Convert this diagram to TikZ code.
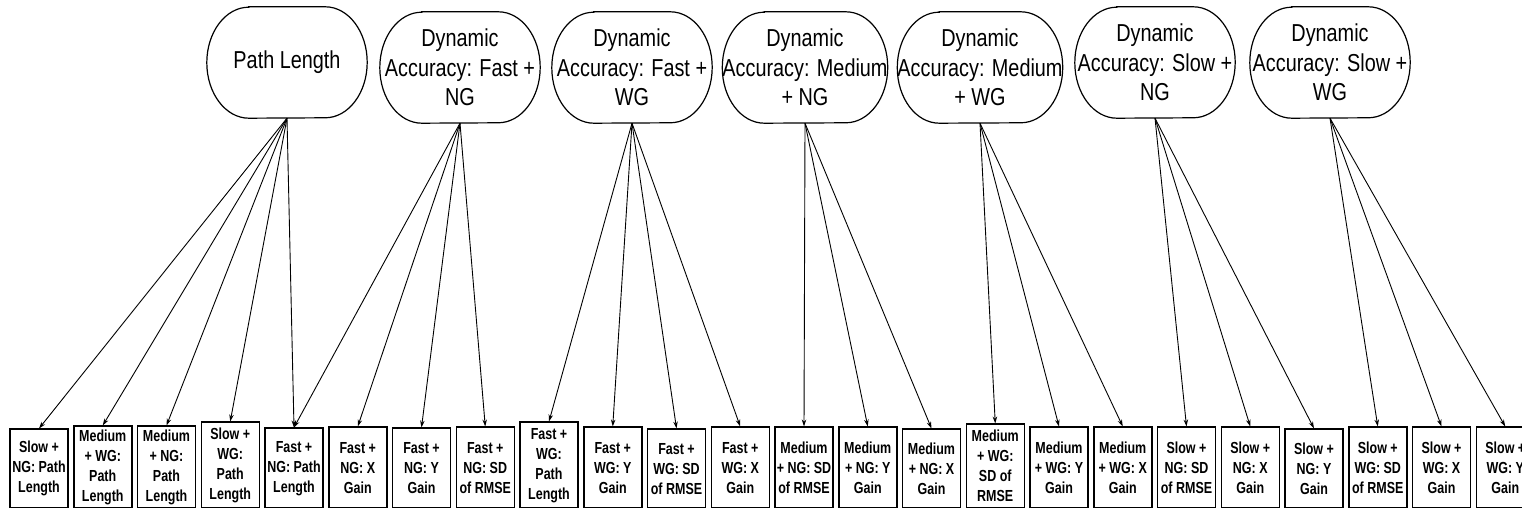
\documentclass[tikz,border=0pt]{standalone}
\usepackage{fontspec}
\newfontfamily\ellfont[FakeStretch=0.81]{Liberation Sans}
\newfontfamily\boxfont[FakeStretch=0.78]{Liberation Sans}
\usetikzlibrary{arrows.meta}

\tikzset{
  pill/.style={draw=none, minimum width=160pt, minimum height=111pt, inner sep=0pt,
    align=center, font={\ellfont\fontsize{24.5}{29.5}\selectfont}},
  pillline/.style={line width=1.2pt, draw=black},
  itembox/.style={draw=black, line width=1.5pt, minimum width=58pt, inner sep=0pt,
    anchor=south, align=center, font={\boxfont\bfseries\fontsize{16}{20}\selectfont}},
  link/.style={line width=0.9pt, -{Stealth[length=7pt,width=4.5pt]}}
}

\begin{document}
\begin{tikzpicture}[x=1pt, y=1pt]
\useasboundingbox (0,0) rectangle (1522,508);
\fill[white] (0,0) rectangle (1522,508);
\clip (0,0) rectangle (1522,508);

% construct nodes (top row)
\node[pill] (e1) at (287, 445.5) {Path Length};
\node[pill] (e2) at (460, 440.5) {Dynamic\\Accuracy: Fast +\\NG};
\node[pill] (e3) at (632, 440.5) {Dynamic\\Accuracy: Fast +\\WG};
\node[pill] (e4) at (805, 440.5) {Dynamic\\Accuracy: Medium\\+ NG};
\node[pill] (e5) at (980, 440.5) {Dynamic\\Accuracy: Medium\\+ WG};
\node[pill] (e6) at (1155, 445.5) {Dynamic\\Accuracy: Slow +\\NG};
\node[pill] (e7) at (1330, 445.5) {Dynamic\\Accuracy: Slow +\\WG};

% pill outlines: flat top and bottom, elliptical ends
\foreach \i in {1,...,7}{
  \draw[pillline] ([xshift=42pt]e\i.north west) -- ([xshift=-42pt]e\i.north east)
    arc[start angle=90, end angle=-90, x radius=42pt, y radius=55.5pt]
    -- ([xshift=42pt]e\i.south west)
    arc[start angle=270, end angle=90, x radius=42pt, y radius=55.5pt] -- cycle;
}

% indicator boxes (bottom row); second value is the top edge
\foreach \i/\t/\txt in {
  1/430/{Slow +\\NG: Path\\Length},
  2/427/{Medium\\+ WG:\\Path\\Length},
  3/427/{Medium\\+ NG:\\Path\\Length},
  4/423/{Slow +\\WG:\\Path\\Length},
  5/429/{Fast +\\NG: Path\\Length},
  6/428/{Fast +\\NG: X\\Gain},
  7/429/{Fast +\\NG: Y\\Gain},
  8/428/{Fast +\\NG: SD\\of RMSE},
  9/423/{Fast +\\WG:\\Path\\Length},
  10/428/{Fast +\\WG: Y\\Gain},
  11/430/{Fast +\\WG: SD\\of RMSE},
  12/428/{Fast +\\WG: X\\Gain},
  13/428/{Medium\\+ NG: SD\\of RMSE},
  14/428/{Medium\\+ NG: Y\\Gain},
  15/430/{Medium\\+ NG: X\\Gain},
  16/425/{Medium\\+ WG:\\SD of\\RMSE},
  17/428/{Medium\\+ WG: Y\\Gain},
  18/428/{Medium\\+ WG: X\\Gain},
  19/428/{Slow +\\NG: SD\\of RMSE},
  20/428/{Slow +\\NG: X\\Gain},
  21/430/{Slow +\\NG: Y\\Gain},
  22/428/{Slow +\\WG: SD\\of RMSE},
  23/428/{Slow +\\WG: X\\Gain},
  24/428/{Slow +\\WG: Y\\Gain}}{
  \node[itembox, minimum height={(509-\t)*1pt}] (b\i) at ({39+63.75*(\i-1)}, -1) {\txt};
}

% loadings
\foreach \s/\d in {1/1,1/2,1/3,1/4,1/5,
                   2/5,2/6,2/7,2/8,
                   3/9,3/10,3/11,3/12,
                   4/13,4/14,4/15,
                   5/16,5/17,5/18,
                   6/19,6/20,6/21,
                   7/22,7/23,7/24}{
  \draw[link] (e\s.south) -- (b\d.north);
}
\end{tikzpicture}
\end{document}
